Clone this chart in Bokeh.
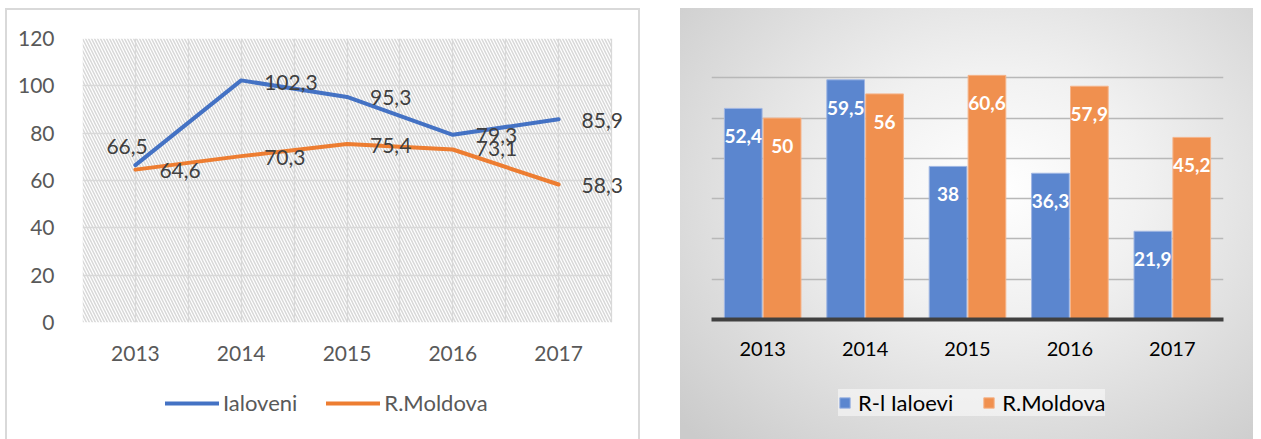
from bokeh.plotting import figure
from bokeh.models import (ColumnDataSource, Range1d, FactorRange, FixedTicker, BoxAnnotation,
                          Legend, LegendItem, LabelSet, Spacer)
from bokeh.layouts import row, column
from bokeh.transform import dodge
from bokeh.core.properties import value
from bokeh.embed import file_html
from bokeh.resources import INLINE

# ---------------- data ----------------
years = ["2013", "2014", "2015", "2016", "2017"]
ialoveni_line = [66.5, 102.3, 95.3, 79.3, 85.9]
moldova_line = [64.6, 70.3, 75.4, 73.1, 58.3]
line_names = ["Ialoveni", "R.Moldova"]

ialoveni_bar = [52.4, 59.5, 38, 36.3, 21.9]
moldova_bar = [50, 56, 60.6, 57.9, 45.2]
bar_names = ["R-l Ialoevi", "R.Moldova"]

y_ticks_left = [0, 20, 40, 60, 80, 100, 120]
y_ticks_right = [0, 10, 20, 30, 40, 50, 60, 70]

FONT = "Lato"
BLUE = "#4472C4"
ORANGE = "#ED7D31"
BLUE_BAR = "#5b86cf"
ORANGE_BAR = "#f0904f"
BLUE_EDGE = "#9fb6e3"
ORANGE_EDGE = "#f5b48a"


def fmt(v):
    return ("%g" % v).replace(".", ",")


# ---------------- left: line chart ----------------
n = len(years)
xs = [i + 0.5 for i in range(n)]

W1, H1, LEG_H = 635, 371, 60
B1_LEFT, B1_RIGHT = 77, 3
PLOT_PX = 529                       # width of the hatched plot area
frame_px = W1 - B1_LEFT - B1_RIGHT  # frame also holds the labels right of 2017
x_end = n * frame_px / PLOT_PX

p1 = figure(width=W1, height=H1, x_range=Range1d(0, x_end), y_range=Range1d(0, 120),
            output_backend="svg", toolbar_location=None,
            min_border_left=B1_LEFT, min_border_right=B1_RIGHT, min_border_top=30, min_border_bottom=57)
p1.outline_line_color = None
p1.background_fill_color = None
p1.border_fill_color = None

hatch = BoxAnnotation(right=n, fill_color=None, fill_alpha=0, line_color=None,
                      hatch_pattern="\\", hatch_color="#d8d8d8", hatch_scale=6,
                      hatch_weight=1.5, level="underlay")
p1.add_layout(hatch)

p1.xaxis.ticker = FixedTicker(ticks=xs)
p1.xaxis.major_label_overrides = {x: y for x, y in zip(xs, years)}
p1.yaxis.ticker = FixedTicker(ticks=y_ticks_left)
for ax in (p1.xaxis, p1.yaxis):
    ax.axis_line_color = None
    ax.major_tick_line_color = None
    ax.minor_tick_line_color = None
    ax.major_label_text_font = FONT
    ax.major_label_text_font_size = "21px"
    ax.major_label_text_color = "#595959"
p1.yaxis.major_label_standoff = 22
p1.xaxis.major_label_standoff = 17

p1.xgrid.ticker = FixedTicker(ticks=[i * 0.5 for i in range(2 * n + 1)])
p1.ygrid.ticker = FixedTicker(ticks=y_ticks_left)
p1.ygrid.cross_bounds = (0, n)
p1.xgrid.grid_line_color = "#d9d9d9"
p1.ygrid.grid_line_color = "#d9d9d9"
p1.xgrid.grid_line_width = 1.3
p1.ygrid.grid_line_width = 1.3

src_l = ColumnDataSource(dict(
    x=xs, ial=ialoveni_line, mol=moldova_line,
    ial_txt=[fmt(v) for v in ialoveni_line], mol_txt=[fmt(v) for v in moldova_line],
    ial_dx=[-29, 23, 23, 23, 23], ial_dy=[19, -2, -1, -1, -1],
    mol_dx=[24, 23, 23, 23, 23], mol_dy=[-1, -1, -1, 1, -1],
))

line_style = dict(line_width=4, line_join="round", line_cap="round")
p1.line("x", "ial", source=src_l, line_color=BLUE, **line_style)
p1.line("x", "mol", source=src_l, line_color=ORANGE, **line_style)

for col, txt, dx, dy in (("ial", "ial_txt", "ial_dx", "ial_dy"), ("mol", "mol_txt", "mol_dx", "mol_dy")):
    p1.add_layout(LabelSet(x="x", y=col, text=txt, source=src_l, x_offset=dx, y_offset=dy,
                           text_align="left", text_baseline="middle", text_font=value(FONT),
                           text_font_size="21px", text_color="#404040"))

# legend strip of the line chart (its series lie outside its view, only the keys show)
l1 = figure(width=W1, height=LEG_H, x_range=Range1d(0, x_end), y_range=Range1d(-3, -2),
            x_axis_type=None, y_axis_type=None, output_backend="svg", toolbar_location=None,
            min_border_left=B1_LEFT, min_border_right=B1_RIGHT, min_border_top=0, min_border_bottom=0)
l1.outline_line_color = None
l1.grid.visible = False
l1.background_fill_color = None
l1.border_fill_color = None
k_ial = l1.line("x", "ial", source=src_l, line_color=BLUE, **line_style)
k_mol = l1.line("x", "mol", source=src_l, line_color=ORANGE, **line_style)
leg1 = Legend(items=[LegendItem(label=line_names[0], renderers=[k_ial]),
                     LegendItem(label=line_names[1], renderers=[k_mol])],
              orientation="horizontal", location=(83, 23),
              glyph_width=54, glyph_height=20, label_standoff=4, spacing=29, padding=0,
              border_line_color=None, background_fill_alpha=0,
              label_text_font=FONT, label_text_font_size="22px", label_text_color="#595959")
l1.add_layout(leg1)

left = column(p1, l1, spacing=0,
              styles={"background": "white",
                      "box-shadow": "inset 2px 2px 0 #d9d9d9, inset -2px 0 0 #d9d9d9"})

# ---------------- right: bar chart ----------------
W2 = 573
B2_LEFT, B2_RIGHT = 31, 30
p2 = figure(width=W2, height=H1, x_range=FactorRange(*years, range_padding=0),
            y_range=Range1d(0, 70), output_backend="svg", toolbar_location=None,
            min_border_left=B2_LEFT, min_border_right=B2_RIGHT, min_border_top=29, min_border_bottom=60)
p2.outline_line_color = None
p2.background_fill_color = None
p2.border_fill_color = None

src_r = ColumnDataSource(dict(
    years=years, ial=ialoveni_bar, mol=moldova_bar,
    ial_txt=[fmt(v) for v in ialoveni_bar], mol_txt=[fmt(v) for v in moldova_bar],
))

bar_blue = dict(fill_color=BLUE_BAR, line_color=BLUE_EDGE, line_width=1)
bar_orange = dict(fill_color=ORANGE_BAR, line_color=ORANGE_EDGE, line_width=1)
p2.vbar(x=dodge("years", -0.19, range=p2.x_range), top="ial", width=0.368, source=src_r, **bar_blue)
p2.vbar(x=dodge("years", 0.19, range=p2.x_range), top="mol", width=0.368, source=src_r, **bar_orange)

for off, col, txt in ((-0.19, "ial", "ial_txt"), (0.19, "mol", "mol_txt")):
    p2.add_layout(LabelSet(x=dodge("years", off, range=p2.x_range), y=col, text=txt, source=src_r,
                           y_offset=-28, text_align="center", text_baseline="middle",
                           text_font=value(FONT), text_font_size="19px", text_font_style="bold",
                           text_color="white"))

p2.yaxis.visible = False
p2.ygrid.ticker = FixedTicker(ticks=y_ticks_right)
p2.ygrid.grid_line_color = "#b8b8b8"
p2.ygrid.grid_line_width = 1.3
p2.xgrid.grid_line_color = None

p2.xaxis.axis_line_color = "#404040"
p2.xaxis.axis_line_width = 4
p2.xaxis.major_tick_line_color = None
p2.xaxis.minor_tick_line_color = None
p2.xaxis.major_label_text_font = FONT
p2.xaxis.major_label_text_font_size = "20px"
p2.xaxis.major_label_text_color = "#000000"
p2.xaxis.major_label_standoff = 16

# legend strip of the bar chart (its bars are hidden, only the keys show)
l2 = figure(width=W2, height=LEG_H, x_range=FactorRange(*years, range_padding=0),
            y_range=Range1d(-3, -2), x_axis_type=None, y_axis_type=None,
            output_backend="svg", toolbar_location=None,
            min_border_left=B2_LEFT, min_border_right=B2_RIGHT, min_border_top=0, min_border_bottom=0)
l2.outline_line_color = None
l2.grid.visible = False
l2.background_fill_color = None
l2.border_fill_color = None
k_bi = l2.vbar(x="years", top="ial", width=0.368, source=src_r, visible=False, **bar_blue)
k_bm = l2.vbar(x="years", top="mol", width=0.368, source=src_r, visible=False, **bar_orange)
leg2 = Legend(items=[LegendItem(label=bar_names[0], renderers=[k_bi]),
                     LegendItem(label=bar_names[1], renderers=[k_bm])],
              orientation="horizontal", location=(127, 23),
              glyph_width=13, glyph_height=13, label_standoff=7, spacing=29, padding=11,
              border_line_color=None, background_fill_color="white", background_fill_alpha=0.5,
              inactive_fill_alpha=0,
              label_text_font=FONT, label_text_font_size="22px", label_text_color="#000000")
l2.add_layout(leg2)

right = column(p2, l2, spacing=0,
               styles={"background": "radial-gradient(ellipse 75% 80% at 55% 42%, #ffffff 0%, #f1f1f1 35%, #cbcbcb 100%)"})

layout = column(Spacer(width=1253, height=8),
                row(Spacer(width=5, height=431), left, Spacer(width=40, height=431), right))

open("out.html", "w").write(file_html(layout, INLINE))
